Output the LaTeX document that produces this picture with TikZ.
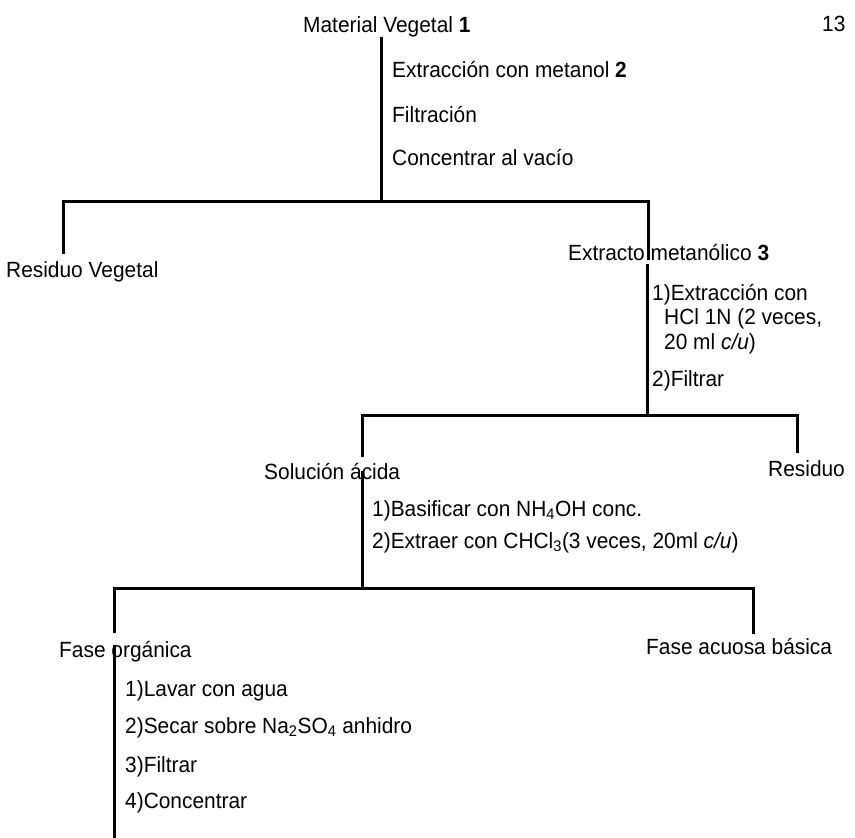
\documentclass[tikz,border=0pt]{standalone}
\usepackage{fontspec}
\setmainfont{Liberation Sans}[FakeStretch=0.95]
\tikzset{
  lbl/.style={anchor=base west, inner sep=0pt},
  rama/.style={line width=3pt},
}
\begin{document}
\begin{tikzpicture}[x=1pt, y=-1pt, node font=\fontsize{22}{26}\selectfont]
\useasboundingbox (0,0) rectangle (855,838);
% material de partida
\node[lbl] (mv) at (303,32) {Material Vegetal \textbf{1}};
\node[lbl] (pag) at (822,31) {13};
\node[lbl] (p1a) at (392,77) {Extracción con metanol \textbf{2}};
\node[lbl] (p1b) at (392,122) {Filtración};
\node[lbl] (p1c) at (392,165) {Concentrar al vacío};
% primera separacion
\coordinate (r1) at (381,201);
\coordinate (r1i) at (63,201);
\coordinate (r1d) at (648,201);
\node[lbl] (rv) at (6,277) {Residuo Vegetal};
\node[lbl] (em) at (568,260) {Extracto metanólico \textbf{3}};
\draw[rama] (mv.south -| r1) -- (r1);
\draw[rama, shorten <=7pt] (r1i |- rv.north) -- (r1i) -- (r1d) -- (r1d |- em.base);
% extracto metanolico
\node[lbl] (p2a) at (652,300) {1)Extracción con};
\node[lbl] (p2b) at (664,324) {HCl 1N (2 veces,};
\node[lbl] (p2c) at (664,349) {20 ml \textit{c/u})};
\node[lbl] (p2d) at (652,386) {2)Filtrar};
\coordinate (r2) at (647,415);
\coordinate (r2i) at (362,415);
\coordinate (r2d) at (797,415);
\node[lbl] (sa) at (264,479) {Solución ácida};
\node[lbl] (res) at (768,476) {Residuo};
\draw[rama, shorten <=4pt] (r2 |- em.south) -- (r2);
\draw[rama, shorten <=6pt, shorten >=7pt] (r2i |- sa.north) -- (r2i) -- (r2d) -- (r2d |- res.north);
% solucion acida
\node[lbl] (p3a) at (372,516) {1)Basificar con NH\textsubscript{4}OH conc.};
\node[lbl] (p3b) at (372,548) {2)Extraer con CHCl\textsubscript{3}(3 veces, 20ml \textit{c/u})};
\coordinate (r3) at (362,588);
\coordinate (r3i) at (114,588);
\coordinate (r3d) at (753,588);
\node[lbl] (fo) at (59,657) {Fase orgánica};
\node[lbl] (fa) at (646,654) {Fase acuosa básica};
\draw[rama] (r3 |- sa.center) -- (r3);
\draw[rama, shorten <=8pt, shorten >=4pt] (r3i |- fo.north) -- (r3i) -- (r3d) -- (r3d |- fa.north);
% fase organica
\node[lbl] (p4a) at (125,696) {1)Lavar con agua};
\node[lbl] (p4b) at (125,733) {2)Secar sobre Na\textsubscript{2}SO\textsubscript{4} anhidro};
\node[lbl] (p4c) at (125,772) {3)Filtrar};
\node[lbl] (p4d) at (125,808) {4)Concentrar};
\coordinate (fin) at (114,838);
\draw[rama, shorten <=4pt] (fin |- fo.north) -- (fin);
\end{tikzpicture}
\end{document}
